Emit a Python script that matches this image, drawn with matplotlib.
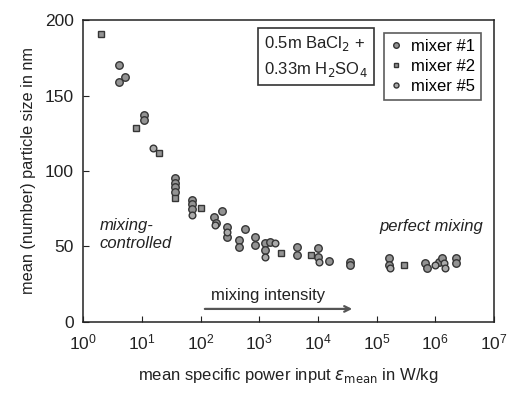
import numpy as np
import matplotlib.pyplot as plt

plt.rcParams['font.family'] = ['Liberation Sans', 'DejaVu Sans']

# mixer #1 (circles)
eps_m1 = [4.0, 4.0, 5.1, 11, 11, 37, 37, 37, 37, 70, 70, 70, 170, 180, 234, 280, 285,
          447, 447, 566, 837, 837, 1260, 1260, 1550, 4470, 4470, 10000, 10000, 15400,
          36000, 36000, 165000, 165000, 680000, 740000, 1.15e6, 1.3e6, 2.3e6, 2.3e6]
d_m1 = [170, 159, 162, 137, 134, 95, 92, 89, 86, 81, 78, 75, 69.7, 65.3, 73.7, 63, 56.4,
        54.2, 49.8, 61.3, 56.4, 50.9, 52, 47.6, 53, 49.8, 44.3, 48.7, 43.1, 40.5,
        39.8, 37.6, 42, 37.6, 38.7, 35.4, 39.8, 42, 42, 38.7]

# mixer #2 (squares)
eps_m2 = [2.0, 8.0, 19.9, 37, 100, 2370, 7650, 290000]
d_m2 = [191, 128.7, 111.7, 82, 75.2, 45.4, 44.3, 37.6]

# mixer #5 (small circles)
eps_m5 = [15.3, 70, 176, 285, 1260, 1870, 10500, 172000, 1.0e6, 1.4e6, 1.45e6]
d_m5 = [115.5, 71, 64.2, 59.7, 43.1, 52.4, 39.8, 35.4, 37.6, 38.7, 35.4]

fig = plt.figure(figsize=(5.08, 3.97), dpi=100)
ax = fig.add_axes([0.164, 0.19, 0.808, 0.759])

grey = '#939393'
edge = '#353535'
ax.plot(eps_m1, d_m1, 'o', ms=5.4, mfc=grey, mec=edge, mew=1.0, label='mixer #1')
ax.plot(eps_m2, d_m2, 's', ms=4.8, mfc=grey, mec=edge, mew=1.0, label='mixer #2')
ax.plot(eps_m5, d_m5, 'o', ms=4.8, mfc='#aaaaaa', mec=edge, mew=1.0, label='mixer #5')

ax.set_xscale('log')
ax.set_xlim(1, 1e7)
ax.set_ylim(0, 200)
ax.set_yticks([0, 50, 100, 150, 200])
ax.set_xticks([10.0**k for k in range(8)])
ax.minorticks_off()
ax.tick_params(direction='in', length=4, labelsize=12.5, colors='#222222')
ax.tick_params(axis='x', pad=8)
ax.tick_params(axis='y', pad=7)
for s in ax.spines.values():
    s.set_color('#222222')
    s.set_linewidth(1.1)

ax.set_xlabel(r'mean specific power input $\varepsilon_{\mathrm{mean}}$ in W/kg',
              fontsize=12, color='#222222', labelpad=10)
ax.set_ylabel('mean (number) particle size in nm', fontsize=11.7, color='#222222',
              labelpad=6)

ax.text(0.04, 0.29, 'mixing-\ncontrolled', transform=ax.transAxes, style='italic',
        fontsize=12, color='#222222', va='center', ha='left', linespacing=1.25)
ax.text(0.973, 0.317, 'perfect mixing', transform=ax.transAxes, style='italic',
        fontsize=12, color='#222222', va='center', ha='right')
ax.text(0.45, 0.085, 'mixing intensity', transform=ax.transAxes,
        fontsize=12, color='#222222', va='center', ha='center')
ax.annotate('', xy=(4.3e4, 8.4), xytext=(106, 8.4),
            arrowprops=dict(arrowstyle='->', color='#555555', lw=1.6))

ax.text(0.44, 0.955, '0.5m BaCl$_2$ +\n0.33m H$_2$SO$_4$', transform=ax.transAxes,
        fontsize=12, color='#222222', va='top', ha='left', linespacing=1.5,
        bbox=dict(boxstyle='square,pad=0.35', fc='white', ec='#333333', lw=1.2))

leg = ax.legend(loc='upper right', bbox_to_anchor=(0.99, 0.985), fontsize=12,
                frameon=True, fancybox=False, edgecolor='#333333', handlelength=0.7,
                handletextpad=0.6, borderpad=0.35, labelspacing=0.3, markerscale=0.75)
leg.get_frame().set_linewidth(1.2)

fig.savefig('out.png', dpi=100)
